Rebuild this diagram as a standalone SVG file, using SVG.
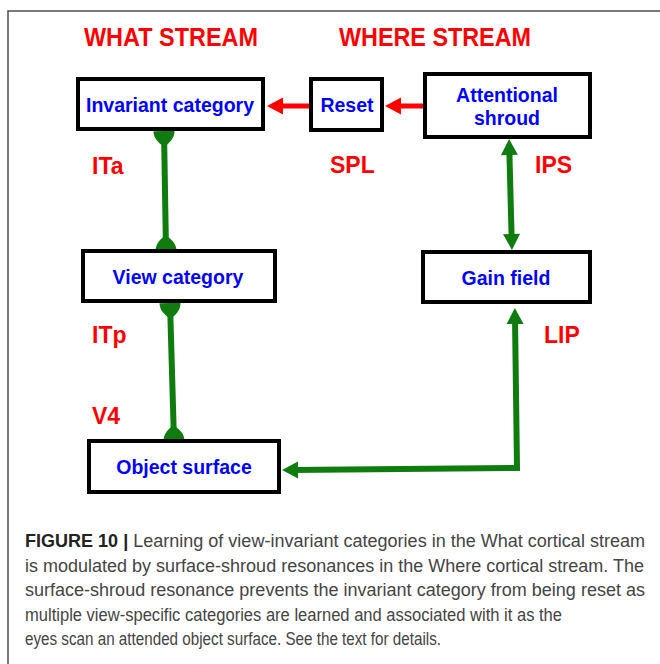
<svg xmlns="http://www.w3.org/2000/svg" width="660" height="664" viewBox="0 0 660 664">
  <style>
    .frame { fill: none; stroke: #4d4d4d; stroke-width: 1.5; }
    .box { fill: #ffffff; stroke: #000000; stroke-width: 4; }
    .label { font-family: "Liberation Sans", Arial, sans-serif; font-weight: bold; font-size: 19.5px; fill: #0000ff; text-anchor: middle; }
    .area { font-family: "Liberation Sans", Arial, sans-serif; font-weight: bold; font-size: 23px; fill: #ff0000; }
    .title { font-family: "Liberation Sans", Arial, sans-serif; font-weight: bold; font-size: 25.5px; fill: #ff0000; }
    .red { fill: none; stroke: #ff0000; stroke-width: 5; }
    .green { fill: none; stroke: #107c10; stroke-width: 6; stroke-linejoin: miter; }
    .caption { font-family: "Liberation Sans", Arial, sans-serif; font-size: 17.5px; fill: #444444; }
    .caption .lead { font-weight: bold; fill: #222222; }
  </style>
  <defs>
    <marker id="redHead" markerUnits="userSpaceOnUse" viewBox="-7 -10 18 20" markerWidth="18" markerHeight="20" refX="0" refY="0" orient="auto-start-reverse" overflow="visible">
      <path d="M10,0 L-6,-8.5 L-6,8.5 Z" fill="#ff0000"/>
    </marker>
    <marker id="greenHead" markerUnits="userSpaceOnUse" viewBox="-7 -10 18 20" markerWidth="18" markerHeight="20" refX="0" refY="0" orient="auto-start-reverse" overflow="visible">
      <path d="M10,0 L-6,-8.5 L-6,8.5 Z" fill="#107c10"/>
    </marker>
    <marker id="knob" markerUnits="userSpaceOnUse" viewBox="-15 -12 16 24" markerWidth="16" markerHeight="24" refX="0" refY="0" orient="auto-start-reverse" overflow="visible">
      <path d="M0,-10.5 C-7,-10.5 -11,-6 -14,-2.5 L-14,2.5 C-11,6 -7,10.5 0,10.5 Z" fill="#107c10"/>
    </marker>
  </defs>

  <!-- figure frame -->
  <path class="frame" d="M661,11 H8 V664"/>

  <!-- stream headings -->
  <text class="title" x="84" y="46" textLength="174" lengthAdjust="spacingAndGlyphs">WHAT STREAM</text>
  <text class="title" x="339" y="46" textLength="192" lengthAdjust="spacingAndGlyphs">WHERE STREAM</text>

  <!-- cortical area labels -->
  <text class="area" x="92" y="174">ITa</text>
  <text class="area" x="330" y="173">SPL</text>
  <text class="area" x="535" y="173">IPS</text>
  <text class="area" x="92" y="343">ITp</text>
  <text class="area" x="544" y="343">LIP</text>
  <text class="area" x="92" y="424">V4</text>

  <!-- connectors -->
  <g id="connectors">
    <path class="red" d="M424,106 H395" marker-end="url(#redHead)"/>
    <path class="red" d="M310,106 H277" marker-end="url(#redHead)"/>
    <path class="green" d="M164,131 L166,251" marker-start="url(#knob)" marker-end="url(#knob)"/>
    <path class="green" d="M170,303 L174,441" marker-start="url(#knob)" marker-end="url(#knob)"/>
    <path class="green" d="M509.3,149 L511.7,240" marker-start="url(#greenHead)" marker-end="url(#greenHead)"/>
    <path class="green" d="M515,318 L517,468 L292,470" marker-start="url(#greenHead)" marker-end="url(#greenHead)"/>
  </g>

  <!-- nodes -->
  <g id="invariant-category">
    <rect class="box" x="78" y="79" width="185" height="50"/>
    <text class="label" x="170" y="112">Invariant category</text>
  </g>
  <g id="reset">
    <rect class="box" x="311" y="79" width="71" height="51"/>
    <text class="label" x="347" y="112">Reset</text>
  </g>
  <g id="attentional-shroud">
    <rect class="box" x="425" y="74" width="165" height="63"/>
    <text class="label" x="507" y="102">Attentional</text>
    <text class="label" x="507" y="125">shroud</text>
  </g>
  <g id="view-category">
    <rect class="box" x="83" y="251" width="192" height="50"/>
    <text class="label" x="178" y="284">View category</text>
  </g>
  <g id="gain-field">
    <rect class="box" x="423" y="252" width="167" height="50"/>
    <text class="label" x="506" y="285">Gain field</text>
  </g>
  <g id="object-surface">
    <rect class="box" x="89" y="441" width="190" height="51"/>
    <text class="label" x="184" y="474">Object surface</text>
  </g>

  <!-- caption -->
  <g class="caption">
    <text x="25" y="547" textLength="620" lengthAdjust="spacingAndGlyphs"><tspan class="lead">FIGURE 10 | </tspan>Learning of view-invariant categories in the What cortical stream</text>
    <text x="25" y="572" textLength="619" lengthAdjust="spacingAndGlyphs">is modulated by surface-shroud resonances in the Where cortical stream. The</text>
    <text x="25" y="596" textLength="620" lengthAdjust="spacingAndGlyphs">surface-shroud resonance prevents the invariant category from being reset as</text>
    <text x="25" y="621" textLength="537" lengthAdjust="spacingAndGlyphs">multiple view-specific categories are learned and associated with it as the</text>
    <text x="25" y="645" textLength="416" lengthAdjust="spacingAndGlyphs">eyes scan an attended object surface. See the text for details.</text>
  </g>
</svg>
